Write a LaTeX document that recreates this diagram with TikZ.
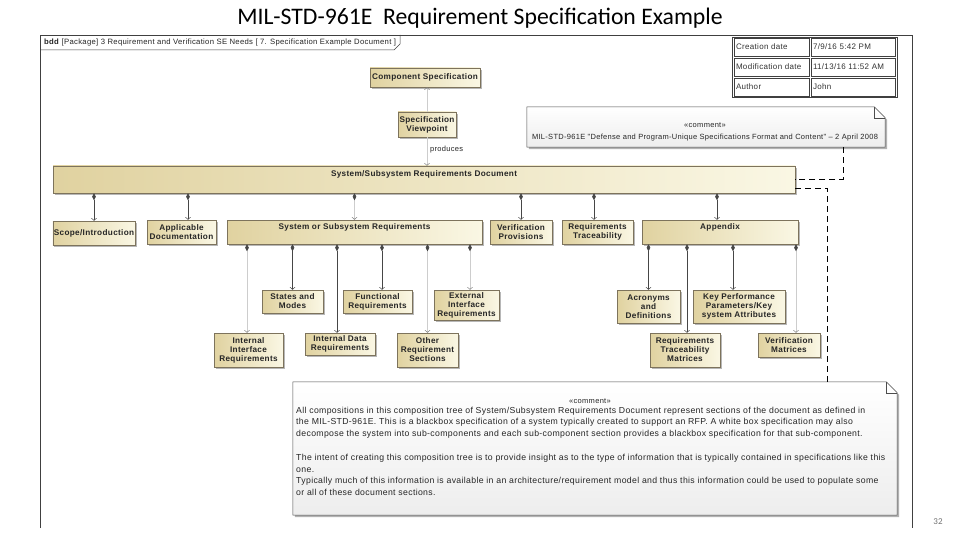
\documentclass[tikz,border=0pt]{standalone}
\usepackage{fontspec}
\setmainfont{Liberation Sans}
\newfontfamily\titlefont{Carlito}
\newfontfamily\lsfont[LetterSpace=4]{Liberation Sans}
\newfontfamily\cellfont[LetterSpace=4]{Liberation Sans}
\usetikzlibrary{arrows.meta,shadows,calc}
\definecolor{tanL}{RGB}{224,210,160}
\definecolor{tanR}{RGB}{250,247,228}
\definecolor{boxline}{RGB}{125,115,92}
\definecolor{darkline}{RGB}{70,70,70}
\definecolor{faintline}{RGB}{205,205,205}
\begin{document}
\begin{tikzpicture}[x=1pt,y=-1pt,
  blk/.style={draw=boxline, line width=0.5pt, left color=tanL, right color=tanR,
    inner sep=1pt, align=center, text=black!85,
    font=\lsfont\fontsize{8.2}{9}\selectfont\bfseries,
    drop shadow={shadow xshift=1.6pt,shadow yshift=-1.6pt,fill=black!40,opacity=0.7}},
  blktext/.style={inner sep=0pt, text=black!85, font=\lsfont\fontsize{8.2}{9}\selectfont\bfseries},
  compo/.style={draw=darkline, line width=0.6pt,
    arrows={Diamond[length=7pt,width=3.6pt,color=darkline]-Straight Barb[length=2.2pt,width=5pt,line width=0.5pt]}},
  compf/.style={draw=faintline, line width=0.6pt,
    arrows={Diamond[length=7pt,width=3.6pt,color=darkline]-Straight Barb[length=2.2pt,width=5pt,line width=0.5pt,color=gray]}},
  dep/.style={draw=faintline, line width=0.6pt,
    arrows={-Straight Barb[length=2.2pt,width=5pt,line width=0.5pt,color=gray]}},
  dsh/.style={draw=black, line width=0.8pt, dash pattern=on 6pt off 4pt},
  cell/.style={draw=black!75, line width=0.5pt, inner sep=2pt, align=left,
    minimum height=18pt, font=\cellfont\fontsize{8}{9}\selectfont, text=black!80},
  notebox/.style={minimum width=#1, inner sep=0pt},
  notetext/.style={inner sep=0pt, align=left, text=black!85},
]
\useasboundingbox (0,0) rectangle (960,540);
\fill[white] (0,0) rectangle (960,540);

% title
\node[font=\titlefont\fontsize{23.7}{26}\selectfont, text=black] (title) at (480,18) {MIL-STD-961E\ \ Requirement Specification Example};
\node[font=\titlefont\fontsize{9}{10}\selectfont, text=black!55] (pnum) at (938,522) {32};

% frame
\draw[black!75, line width=0.6pt] (40,528) -- (40,35) -- (912,35) -- (912,528);
\draw[black!75, line width=0.5pt] (40,50) -- (394,50) -- (400,44) -- (400,35);
\node[anchor=west, inner sep=0pt, font=\lsfont\fontsize{7.7}{8}\selectfont, text=black!85] (hdr) at (44,43)
  {\textbf{bdd} [Package] 3 Requirement and Verification SE Needs [ 7. Specification Example Document ]};

% info table
\node[draw=black!75, line width=0.5pt, minimum width=165pt, minimum height=60pt, inner sep=0pt] (tbl) at (814.5,67) {};
\node[cell, minimum width=75pt, text width=71pt] (c11) at (771.5,47) {Creation date};
\node[cell, minimum width=84pt, text width=80pt] (c12) at (853,47) {7/9/16 5:42 PM};
\node[cell, minimum width=75pt, text width=71pt] (c21) at (771.5,67) {Modification date};
\node[cell, minimum width=84pt, text width=80pt] (c22) at (853,67) {11/13/16 11:52 AM};
\node[cell, minimum width=75pt, text width=71pt] (c31) at (771.5,87) {Author};
\node[cell, minimum width=84pt, text width=80pt] (c32) at (853,87) {John};

% note 1
\node[notebox=358pt, minimum height=40pt] (note1) at (706,127) {};
\fill[black!30] ([shift={(2pt,-2pt)}]note1.north west) -- ([shift={(-9pt,-2pt)}]note1.north east) -- ([shift={(2pt,-13pt)}]note1.north east) -- ([shift={(2pt,-2pt)}]note1.south east) -- ([shift={(2pt,-2pt)}]note1.south west) -- cycle;
\draw[black!70, line width=0.5pt, top color=white, bottom color=black!7]
  (note1.north west) -- ([xshift=-11pt]note1.north east) -- ([yshift=-11pt]note1.north east) -- (note1.south east) -- (note1.south west) -- cycle;
\draw[black!70, line width=0.5pt] ([xshift=-11pt]note1.north east) -- ([shift={(-11pt,-11pt)}]note1.north east) -- ([yshift=-11pt]note1.north east);
\node[notetext, align=center, font=\lsfont\fontsize{7.5}{12}\selectfont] (note1t) at (705,132)
  {«comment»\\MIL-STD-961E "Defense and Program-Unique Specifications Format and Content" – 2 April 2008};

% note 2
\node[notebox=604pt, minimum height=133pt] (note2) at (595,448.5) {};
\fill[black!30] ([shift={(2pt,-2pt)}]note2.north west) -- ([shift={(-9pt,-2pt)}]note2.north east) -- ([shift={(2pt,-13pt)}]note2.north east) -- ([shift={(2pt,-2pt)}]note2.south east) -- ([shift={(2pt,-2pt)}]note2.south west) -- cycle;
\draw[black!70, line width=0.5pt, top color=white, bottom color=black!7]
  (note2.north west) -- ([xshift=-11pt]note2.north east) -- ([yshift=-11pt]note2.north east) -- (note2.south east) -- (note2.south west) -- cycle;
\draw[black!70, line width=0.5pt] ([xshift=-11pt]note2.north east) -- ([shift={(-11pt,-11pt)}]note2.north east) -- ([yshift=-11pt]note2.north east);
\node[notetext, align=center, font=\lsfont\fontsize{7.5}{8}\selectfont] (note2h) at (590,401) {«comment»};
\node[notetext, anchor=north west, font=\lsfont\fontsize{8.7}{11.8}\selectfont] (note2t) at (296,406.5)
  {All compositions in this composition tree of System/Subsystem Requirements Document represent sections of the document as defined in\\
   the MIL-STD-961E. This is a blackbox specification of a system typically created to support an RFP. A white box specification may also\\
   decompose the system into sub-components and each sub-component section provides a blackbox specification for that sub-component.\\[11.8pt]
   The intent of creating this composition tree is to provide insight as to the type of information that is typically contained in specifications like this\\
   one.\\
   Typically much of this information is available in an architecture/requirement model and thus this information could be used to populate some\\
   or all of these document sections.};

% blocks
\node[blk, minimum width=110pt, minimum height=19pt] (comp) at (425,77.5) {Component Specification};
\node[blk, minimum width=58pt, minimum height=25pt] (view) at (427,124.5) {Specification\\Viewpoint};
\node[blk, minimum width=742pt, minimum height=27pt] (doc) at (424,179.5) {};
\node[blktext] (docT) at (424,174) {System/Subsystem Requirements Document};

\node[blk, minimum width=82pt, minimum height=24pt] (scope) at (94,233) {Scope/Introduction};
\node[blk, minimum width=69pt, minimum height=24pt] (appl) at (181.5,232) {Applicable\\Documentation};
\node[blk, minimum width=255pt, minimum height=24pt] (sysreq) at (354.5,232) {};
\node[blktext] (sysreqT) at (354.5,227.5) {System or Subsystem Requirements};
\node[blk, minimum width=62pt, minimum height=24pt] (verif) at (521,232) {Verification\\Provisions};
\node[blk, minimum width=71pt, minimum height=24pt] (rtrace) at (597.5,232) {Requirements\\Traceability};
\node[blk, minimum width=156pt, minimum height=24pt] (appx) at (720,232) {};
\node[blktext] (appxT) at (720,227.5) {Appendix};

\node[blk, minimum width=69pt, minimum height=34pt] (intif) at (248.5,350) {Internal\\Interface\\Requirements};
\node[blk, minimum width=61pt, minimum height=23pt] (states) at (292.5,301.5) {States and\\Modes};
\node[blk, minimum width=70pt, minimum height=22pt] (intdata) at (340,344) {Internal Data\\Requirements};
\node[blk, minimum width=69pt, minimum height=23pt] (func) at (377.5,301.5) {Functional\\Requirements};
\node[blk, minimum width=61pt, minimum height=34pt] (other) at (427.5,350) {Other\\Requirement\\Sections};
\node[blk, minimum width=65pt, minimum height=30pt] (extif) at (466.5,305) {External\\Interface\\Requirements};

\node[blk, minimum width=63pt, minimum height=33pt] (acro) at (648.5,306.5) {Acronyms\\and\\Definitions};
\node[blk, minimum width=70pt, minimum height=34pt] (rtm) at (685,350) {Requirements\\Traceability\\Matrices};
\node[blk, minimum width=92pt, minimum height=33pt] (kpp) at (739,306.5) {Key Performance\\Parameters/Key\\system Attributes};
\node[blk, minimum width=62pt, minimum height=24pt] (vmat) at (789,345) {Verification\\Matrices};

% connectors: top
\draw[dep] (view.north) -- (view.north |- comp.south);
\draw[dep] (view.south) -- (view.south |- doc.north);
\node[anchor=west, inner sep=0pt, font=\lsfont\fontsize{7.5}{8}\selectfont, text=black!85] (prod) at (430,150) {produces};

% doc -> sections
\draw[compo] (doc.south -| scope.north) -- (scope.north);
\coordinate (aplc) at ([xshift=6.5pt]appl.north);
\draw[compo] (doc.south -| aplc) -- (aplc);
\draw[compf] (doc.south -| sysreq.north) -- (sysreq.north);
\draw[compo] (doc.south -| verif.north) -- (verif.north);
\coordinate (rtc) at ([xshift=-3.5pt]rtrace.north);
\draw[compo] (doc.south -| rtc) -- (rtc);
\coordinate (apc) at ([xshift=-3pt]appx.north);
\draw[compo] (doc.south -| apc) -- (apc);

% system requirements -> children
\coordinate (i1) at ([xshift=-1.5pt]intif.north);
\draw[compf] (sysreq.south -| i1) -- (i1);
\draw[compo] (sysreq.south -| states.north) -- (states.north);
\coordinate (i3) at ([xshift=-3pt]intdata.north);
\draw[compo] (sysreq.south -| i3) -- (i3);
\coordinate (i4) at ([xshift=4.5pt]func.north);
\draw[compo] (sysreq.south -| i4) -- (i4);
\draw[compf] (sysreq.south -| other.north) -- (other.north);
\coordinate (i6) at ([xshift=3.5pt]extif.north);
\draw[compf] (sysreq.south -| i6) -- (i6);

% appendix -> children
\draw[compo] (appx.south -| acro.north) -- (acro.north);
\coordinate (a2) at ([xshift=2pt]rtm.north);
\draw[compo] (appx.south -| a2) -- (a2);
\coordinate (a3) at ([xshift=-6pt]kpp.north);
\draw[compo] (appx.south -| a3) -- (a3);
\coordinate (a4) at ([xshift=7pt]vmat.north);
\draw[compf] (appx.south -| a4) -- (a4);

% dashed anchors to notes
\coordinate (n1a) at ([xshift=137pt]note1.south);
\draw[dsh] (n1a) -- (n1a |- doc.east) -- (doc.east);
\coordinate (d2) at ([yshift=-8.5pt]doc.east);
\coordinate (n2a) at ([xshift=232pt]note2.north);
\draw[dsh] (d2) -- (d2 -| n2a) -- (n2a);
\end{tikzpicture}
\end{document}
